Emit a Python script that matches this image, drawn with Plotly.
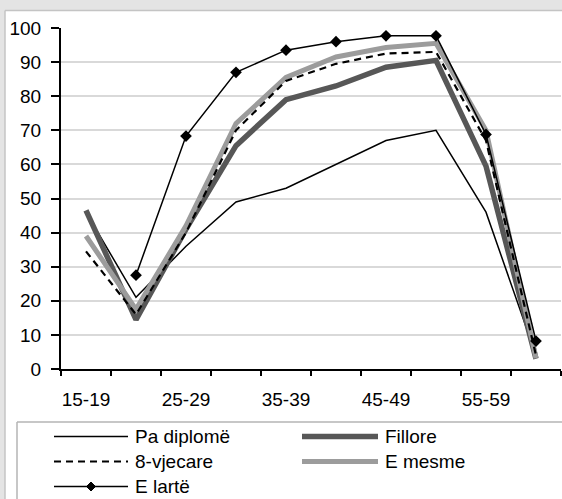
import plotly.graph_objects as go

age_groups = ["15-19", "20-24", "25-29", "30-34", "35-39", "40-44", "45-49", "50-54", "55-59", "60-64"]
pa_diplome = [46, 21, 36, 49, 53, 60, 67, 70, 46, 4]
fillore = [46.5, 14.5, 41, 65.5, 79, 83, 88.5, 90.5, 59.5, 3]
tetevjecare = [34.5, 16, 40, 70, 84.5, 89.5, 92.5, 93, 67, 4]
e_mesme = [39, 17.5, 42, 72, 85.5, 91.5, 94.3, 95.5, 70, 3.2]
e_larte = [None, 27.5, 68.3, 87, 93.5, 96, 97.7, 97.7, 68.8, 8.2]

series_names = ["Pa diplomë", "Fillore", "8-vjecare", "E mesme", "E lartë"]

W, H = 562, 499
FONT = "Liberation Sans, Arial, sans-serif"
FS = 19

xs = list(range(len(age_groups)))

fig = go.Figure()
fig.add_trace(go.Scatter(x=xs, y=pa_diplome, name=series_names[0], mode="lines",
                         line=dict(color="black", width=1.5)))
fig.add_trace(go.Scatter(x=xs, y=fillore, name=series_names[1], mode="lines",
                         line=dict(color="#575757", width=5.5)))
fig.add_trace(go.Scatter(x=xs, y=e_mesme, name=series_names[3], mode="lines",
                         line=dict(color="#9c9c9c", width=5)))
fig.add_trace(go.Scatter(x=xs, y=tetevjecare, name=series_names[2], mode="lines",
                         line=dict(color="black", width=2.2, dash="7px,5px")))
fig.add_trace(go.Scatter(x=xs, y=e_larte, name=series_names[4], mode="lines+markers",
                         line=dict(color="black", width=1.5),
                         marker=dict(symbol="diamond", size=9, color="black")))

def px(x):
    return x / W

def py(y):
    return 1 - y / H

shapes = []
# chart area white box (fill only) + left/top border
shapes.append(dict(type="rect", xref="paper", yref="paper", x0=px(5), x1=1, y0=py(10.5), y1=0,
                   fillcolor="white", line=dict(width=0), layer="below"))
shapes.append(dict(type="line", xref="paper", yref="paper", x0=px(5), x1=px(5), y0=py(10.5), y1=0,
                   line=dict(color="#c4c4c4", width=1.5), layer="below"))
shapes.append(dict(type="line", xref="paper", yref="paper", x0=px(5), x1=1, y0=py(10.5), y1=py(10.5),
                   line=dict(color="#c4c4c4", width=1.5), layer="below"))
# legend box (fill only) + left/top border
shapes.append(dict(type="rect", xref="paper", yref="paper", x0=px(17), x1=1, y0=py(422), y1=0,
                   fillcolor="white", line=dict(width=0), layer="above"))
shapes.append(dict(type="line", xref="paper", yref="paper", x0=px(17), x1=px(17), y0=py(422), y1=0,
                   line=dict(color="#b4b4b4", width=1.5), layer="above"))
shapes.append(dict(type="line", xref="paper", yref="paper", x0=px(17), x1=1, y0=py(422), y1=py(422),
                   line=dict(color="#b4b4b4", width=1.5), layer="above"))

legend_items = [
    (series_names[0], 54, 128, 436.5, dict(color="black", width=1.5), False),
    (series_names[1], 302, 378, 436.5, dict(color="#575757", width=5.5), False),
    (series_names[2], 54, 128, 461.5, dict(color="black", width=2.2, dash="7px,5px"), False),
    (series_names[3], 302, 378, 461.5, dict(color="#9c9c9c", width=5), False),
    (series_names[4], 54, 128, 486.5, dict(color="black", width=1.5), True),
]
annotations = []
for name, x0, x1, yy, ln, diamond in legend_items:
    shapes.append(dict(type="line", xref="paper", yref="paper", x0=px(x0), x1=px(x1), y0=py(yy), y1=py(yy),
                       line=ln, layer="above"))
    if diamond:
        cx = (x0 + x1) / 2
        d = 4.5
        path = (f"M {px(cx - d)} {py(yy)} L {px(cx)} {py(yy - d)} L {px(cx + d)} {py(yy)} "
                f"L {px(cx)} {py(yy + d)} Z")
        shapes.append(dict(type="path", xref="paper", yref="paper", path=path,
                           fillcolor="black", line=dict(color="black", width=1), layer="above"))
    annotations.append(dict(text=name, xref="paper", yref="paper", x=px(x1 + 5), y=py(yy),
                            xanchor="left", yanchor="middle", showarrow=False,
                            font=dict(family=FONT, size=FS, color="black")))

fig.update_layout(
    width=W, height=H,
    autosize=False,
    margin=dict(l=0, r=0, t=0, b=0, pad=0, autoexpand=False),
    paper_bgcolor="#e4e4e4",
    plot_bgcolor="white",
    showlegend=False,
    font=dict(family=FONT, size=FS, color="black"),
    shapes=shapes,
    annotations=annotations,
    xaxis=dict(
        domain=[61 / W, 561 / W],
        range=[-0.5, len(age_groups) - 0.5],
        tickmode="array",
        tickvals=xs[::2],
        ticktext=age_groups[::2],
        ticks="",
        showgrid=False,
        zeroline=False,
        automargin=False,
        showline=True, linecolor="black", linewidth=2,
        ticklabelstandoff=12,
        minor=dict(tickmode="array", tickvals=[i - 0.5 for i in range(len(age_groups) + 1)],
                   ticks="outside", ticklen=5, tickwidth=1.5, tickcolor="black", showgrid=False),
        fixedrange=True,
    ),
    yaxis=dict(
        domain=[1 - 369 / H, 1 - 28 / H],
        range=[0, 100],
        dtick=10,
        ticks="outside", ticklen=8, tickwidth=1.5, tickcolor="black",
        showline=True, linecolor="black", linewidth=2,
        showgrid=True, gridcolor="#d9d9d9", gridwidth=2,
        zeroline=False,
        automargin=False,
        ticklabelstandoff=6,
        fixedrange=True,
    ),
)

post = (
    "var s=document.createElement('style');"
    "s.textContent='html,body{margin:0;padding:0;overflow:hidden;scrollbar-width:none;}"
    "::-webkit-scrollbar{display:none;width:0;height:0;}"
    ".plotly-graph-div{display:block;}';"
    "document.head.appendChild(s);"
)

fig.write_html(
    "out.html",
    config={"responsive": False, "displayModeBar": False},
    post_script=post,
)
